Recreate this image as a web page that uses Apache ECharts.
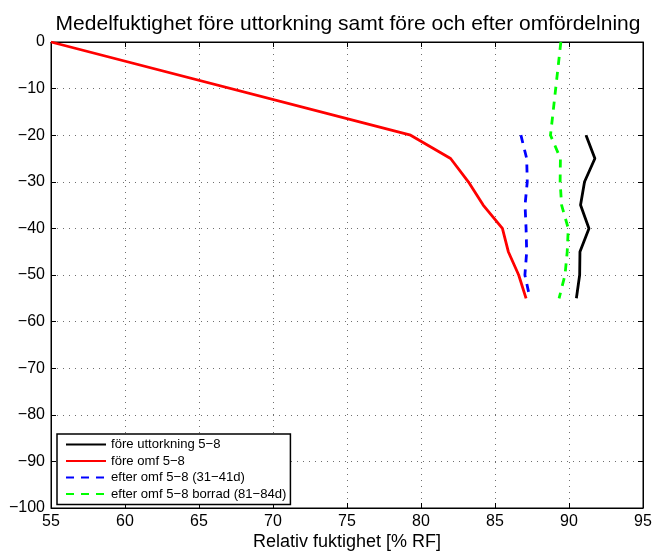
<!DOCTYPE html>
<html>
<head>
<meta charset="utf-8">
<script src="https://cdn.jsdelivr.net/npm/echarts@6/dist/echarts.min.js"></script>
<style>
html,body{margin:0;padding:0;background:#fff;}
#c{width:653px;height:551px;}
</style>
</head>
<body>
<div id="c"></div>
<script>
// Depth values (y) for each series
const depthRed = [0, -20, -25, -30, -35, -40, -45, -50, -55];
const humRed = [55, 79.3, 82.0, 83.2, 84.2, 85.5, 85.9, 86.6, 87.1];

const depthBlack = [-20, -25, -30, -35, -40, -45, -50, -55];
const humBlack = [91.15, 91.75, 91.05, 90.78, 91.35, 90.74, 90.72, 90.5];

const depthBlue = [-20, -25, -30, -35, -40, -45, -50, -55];
const humBlue = [86.75, 87.14, 87.18, 87.03, 87.1, 87.14, 87.02, 87.36];

const depthGreen = [0, -20, -25, -30, -35, -40, -45, -50, -55];
const humGreen = [89.45, 88.75, 89.42, 89.4, 89.5, 89.95, 89.88, 89.73, 89.33];

const seriesNames = [
  'före uttorkning 5\u22128',
  'före omf 5\u22128',
  'efter omf 5\u22128 (31\u221241d)',
  'efter omf 5\u22128 borrad (81\u221284d)'
];
const titleText = 'Medelfuktighet före uttorkning samt före och efter omfördelning';
const xName = 'Relativ fuktighet [% RF]';

function pairs(xs, ys) { return xs.map((x, i) => [x, ys[i]]); }
const minusFmt = v => String(v).replace('-', '\u2212');

const FONT = '"Liberation Sans", Arial, Helvetica, sans-serif';
const chart = echarts.init(document.getElementById('c'), null, {renderer: 'canvas'});

const gridLine = {show: true, lineStyle: {color: '#6f6f6f', type: [1, 5], width: 1}};

chart.setOption({
  backgroundColor: '#ffffff',
  animation: false,
  title: {
    text: titleText, left: 343, top: 9, textAlign: 'center',
    textStyle: {fontFamily: FONT, fontSize: 21, fontWeight: 'normal', color: '#000'}
  },
  grid: {left: 51, right: 10, top: 42, bottom: 43, show: true, borderColor: '#000', borderWidth: 1,
    backgroundColor: 'transparent', containLabel: false, outerBoundsMode: 'none'},
  legend: {
    orient: 'vertical', left: 57, top: 434,
    backgroundColor: '#fff', borderColor: '#000', borderWidth: 1.5,
    padding: [4, 4, 4, 8], itemWidth: 40, itemHeight: 13, itemGap: 3.5,
    itemStyle: {opacity: 0},
    textStyle: {fontFamily: FONT, fontSize: 13.1, color: '#000'},
    data: seriesNames
  },
  xAxis: [{
    type: 'value', min: 55, max: 95, interval: 5, position: 'bottom',
    name: xName, nameLocation: 'middle', nameGap: 25, nameMoveOverlap: false,
    nameTextStyle: {fontFamily: FONT, fontSize: 18, color: '#000'},
    axisLine: {show: true, onZero: false, lineStyle: {color: '#000', width: 1}},
    axisTick: {show: true, inside: true, length: 5, lineStyle: {color: '#000'}},
    axisLabel: {fontFamily: FONT, fontSize: 16, color: '#000', margin: 6, formatter: minusFmt},
    splitLine: gridLine
  }, {
    type: 'value', min: 55, max: 95, interval: 5, position: 'top',
    axisLine: {show: true, onZero: false, lineStyle: {color: '#000', width: 1}},
    axisTick: {show: true, inside: true, length: 5, lineStyle: {color: '#000'}},
    axisLabel: {show: false}, splitLine: {show: false}
  }],
  yAxis: [{
    type: 'value', min: -100, max: 0, interval: 10, position: 'left',
    axisLine: {show: true, onZero: false, lineStyle: {color: '#000', width: 1}},
    axisTick: {show: true, inside: true, length: 5, lineStyle: {color: '#000'}},
    axisLabel: {fontFamily: FONT, fontSize: 16, color: '#000', margin: 6, formatter: minusFmt},
    splitLine: gridLine
  }, {
    type: 'value', min: -100, max: 0, interval: 10, position: 'right',
    axisLine: {show: true, onZero: false, lineStyle: {color: '#000', width: 1}},
    axisTick: {show: true, inside: true, length: 5, lineStyle: {color: '#000'}},
    axisLabel: {show: false}, splitLine: {show: false}
  }],
  series: [
    {name: seriesNames[0], type: 'line', data: pairs(humBlack, depthBlack), symbol: 'none',
     color: '#000000', lineStyle: {color: '#000000', width: 2.8}},
    {name: seriesNames[1], type: 'line', data: pairs(humRed, depthRed), symbol: 'none',
     color: '#ff0000', lineStyle: {color: '#ff0000', width: 2.8}},
    {name: seriesNames[2], type: 'line', data: pairs(humBlue, depthBlue), symbol: 'none',
     color: '#0000ff', lineStyle: {color: '#0000ff', width: 2.8, type: [8, 7]}},
    {name: seriesNames[3], type: 'line', data: pairs(humGreen, depthGreen), symbol: 'none',
     color: '#00ff00', lineStyle: {color: '#00ff00', width: 2.8, type: [8, 7]}}
  ]
});
</script>
</body>
</html>
